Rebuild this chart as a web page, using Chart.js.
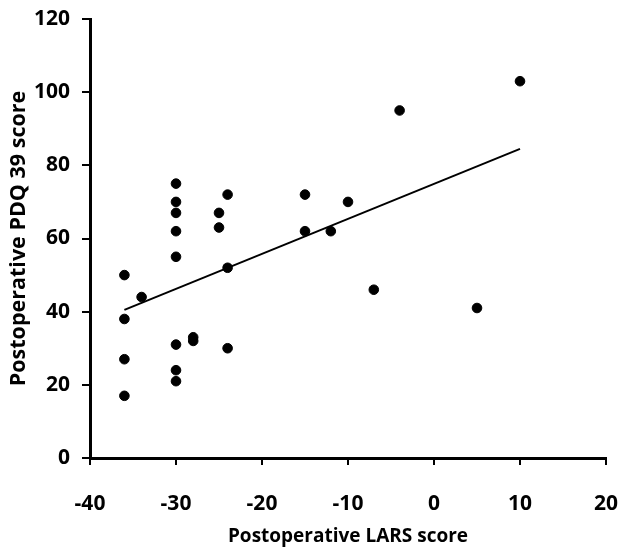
<!DOCTYPE html>
<html lang="en">

<head>
    <meta charset="UTF-8">
    <title>Postoperative LARS vs PDQ 39</title>
    <script src="https://cdn.jsdelivr.net/npm/chart.js@4.4.1/dist/chart.umd.min.js"></script>
    <style>
        body { margin: 0; background: #fff; }
        #wrap { width: 622px; height: 549px; }
    </style>
</head>

<body>
    <div id="wrap">
        <canvas id="chart" width="622" height="549"></canvas>
    </div>

    <script>
        // LARS score (x) and PDQ 39 score (y) for each patient
        const larsScores = [-36, -36, -36, -36, -34, -30, -30, -30, -30, -30, -30, -30, -30, -28, -28,
            -25, -25, -24, -24, -24, -15, -15, -12, -10, -7, -4, 5, 10];
        const pdqScores = [50, 38, 27, 17, 44, 75, 70, 67, 62, 55, 31, 24, 21, 33, 32,
            67, 63, 72, 52, 30, 72, 62, 62, 70, 46, 95, 41, 103];

        // trend line ends
        const trendX = [-36, 10];
        const trendY = [40.5, 84.5];

        const xTicks = [-40, -30, -20, -10, 0, 10, 20];
        const yTicks = [0, 20, 40, 60, 80, 100, 120];

        const points = larsScores.map((x, i) => ({ x: x, y: pdqScores[i] }));
        const trend = trendX.map((x, i) => ({ x: x, y: trendY[i] }));

        const labelFont = { family: 'Open Sans', size: 21, weight: 'bold' };

        // fixed axis sizes, and no extra room for the end labels (layout padding handles it)
        function fixSize(scale, size) {
            if (scale.isHorizontal()) scale.height = size;
            else scale.width = size;
            scale.paddingLeft = scale.paddingRight = scale.paddingTop = scale.paddingBottom = 0;
        }

        const ctx = document.getElementById('chart').getContext('2d');
        new Chart(ctx, {
            type: 'scatter',
            data: {
                datasets: [{
                    label: 'Patients',
                    data: points,
                    backgroundColor: '#000',
                    borderColor: '#000',
                    pointRadius: 4.8,
                    pointHoverRadius: 4.8
                }, {
                    type: 'line',
                    label: 'Trend',
                    data: trend,
                    borderColor: '#000',
                    borderWidth: 2,
                    pointRadius: 0,
                    fill: false
                }]
            },
            options: {
                responsive: false,
                animation: false,
                layout: { padding: { top: 19, right: 16, left: 0, bottom: 0 } },
                plugins: {
                    legend: { display: false },
                    tooltip: { enabled: false }
                },
                scales: {
                    x: {
                        type: 'linear',
                        min: xTicks[0],
                        max: xTicks[xTicks.length - 1],
                        afterBuildTicks: (scale) => { scale.ticks = xTicks.map(v => ({ value: v })); },
                        afterFit: (scale) => fixSize(scale, 91),
                        ticks: { color: '#000', font: labelFont, padding: 26 },
                        grid: { drawOnChartArea: false, color: '#000', lineWidth: 2, tickLength: 7 },
                        border: { color: '#000', width: 3 },
                        title: {
                            display: true,
                            text: 'Postoperative LARS score',
                            color: '#000',
                            font: { family: 'Open Sans', size: 19, weight: 'bold' },
                            padding: { top: 0, bottom: 1 }
                        }
                    },
                    y: {
                        min: yTicks[0],
                        max: yTicks[yTicks.length - 1],
                        afterBuildTicks: (scale) => { scale.ticks = yTicks.map(v => ({ value: v })); },
                        afterFit: (scale) => fixSize(scale, 90),
                        ticks: { color: '#000', font: labelFont, padding: 12 },
                        grid: { drawOnChartArea: false, color: '#000', lineWidth: 2, tickLength: 8 },
                        border: { color: '#000', width: 3 },
                        title: {
                            display: true,
                            text: 'Postoperative PDQ 39 score',
                            color: '#000',
                            font: { family: 'Open Sans', size: 21.5, weight: 'bold' },
                            padding: { top: 6, bottom: 0 }
                        }
                    }
                }
            }
        });
    </script>
</body>

</html>
